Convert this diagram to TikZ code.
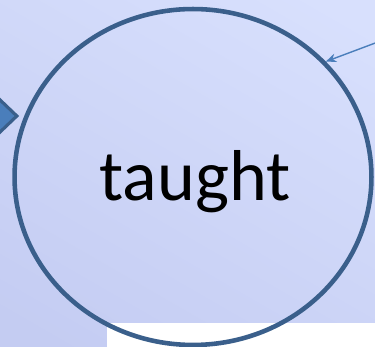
\documentclass[tikz,border=0pt]{standalone}
\usepackage{fontspec}
\setmainfont{Carlito}
\usetikzlibrary{arrows.meta, positioning, shapes.geometric}
\definecolor{BGT}{RGB}{216,224,253}
\definecolor{BGB}{RGB}{196,204,242}
\definecolor{CB}{RGB}{58,95,139}
\definecolor{LB}{RGB}{74,126,187}

\begin{document}
\begin{tikzpicture}[x=0.02cm, y=-0.02cm,
  word/.style={draw=CB, line width=2.6pt, ellipse, minimum width=7.14cm, minimum height=6.72cm,
               font=\fontsize{41}{41}\selectfont, inner sep=0pt},
  tip/.style={draw=CB, fill=LB, line width=1.8pt, diamond, minimum width=0.94cm, minimum height=0.9cm},
  arr/.style={-{Stealth[length=6pt,width=5pt]}, draw=LB, line width=0.8pt}
]
\useasboundingbox (0,0) rectangle (375,347);
\clip (0,0) rectangle (375,347);
\shade[top color=BGT, bottom color=BGB, shading angle=-30] (-40,-40) rectangle (415,387);
\fill[white] (107,323) rectangle (375,347);
% shapes
\node[tip] (pt) at (-6,116) {};
\node[word] (tg) at (193,177) {};
\node[font=\fontsize{41}{41}\selectfont] (lbl) at (195,182) {taught};
\coordinate (src) at (378,42);
\draw[arr] (src) -- (tg.41);
\end{tikzpicture}
\end{document}
